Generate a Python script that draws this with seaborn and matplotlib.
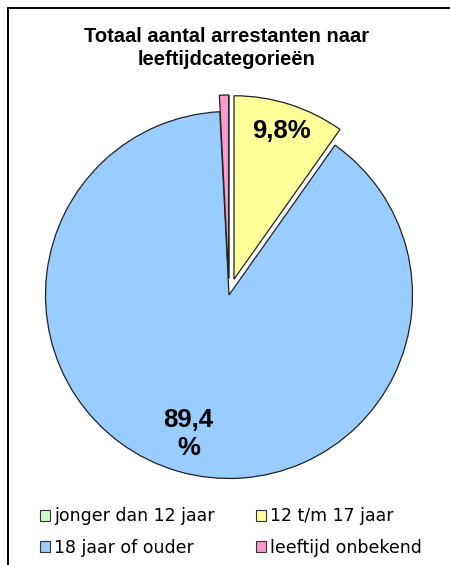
import numpy as np
import pandas as pd
import matplotlib
matplotlib.use("Agg")
import matplotlib.pyplot as plt
import seaborn as sns
from matplotlib.patches import Patch, Rectangle

# data
categories = ["jonger dan 12 jaar", "12 t/m 17 jaar", "18 jaar of ouder", "leeftijd onbekend"]
shares = [0.0, 9.8, 89.4, 0.8]
labels_shown = ["", "9,8%", "89,4\n%", ""]
colors = ["#CCFFCC", "#FFFF99", "#99CCFF", "#FF99CC"]
explode = [0.09, 0.09, 0.0, 0.09]

sns.set_theme(style="white")
plt.rcParams["font.family"] = ["Liberation Sans", "DejaVu Sans"]
plt.rcParams["text.color"] = "black"

fig = plt.figure(figsize=(4.5, 5.65), dpi=100)

# frame (only top and left visible in the crop)
fig.patches.append(Rectangle((8 / 450, -0.1), 1.2, 1 - 8 / 565 + 0.1,
                             transform=fig.transFigure, fill=False,
                             edgecolor="black", linewidth=1.4))

ax = fig.add_axes([45.5 / 450, 86.5 / 565, 367 / 450, 367 / 565])
wedges, _ = ax.pie(shares, colors=colors, explode=explode, startangle=90,
                   counterclock=False,
                   wedgeprops=dict(edgecolor="#222222", linewidth=0.9))
for w in wedges:
    w.set_clip_on(False)

# labels placed inside their wedges
label_dist = [0.85, 0.85, 0.79, 0.85]
for w, lab, d in zip(wedges, labels_shown, label_dist):
    if not lab:
        continue
    mid = np.deg2rad((w.theta1 + w.theta2) / 2)
    cx, cy = w.center
    ax.text(cx + d * np.cos(mid), cy + d * np.sin(mid), lab,
            ha="center", va="center", fontsize=18.5, fontweight="bold",
            linespacing=1.2)

ax.set_xlim(-1, 1)
ax.set_ylim(-1, 1)
ax.set_aspect("equal")
ax.axis("off")

fig.text(227 / 450, 1 - 48 / 565, "Totaal aantal arrestanten naar\nleeftijdcategorieën",
         ha="center", va="center", fontsize=14.5, fontweight="bold", linespacing=1.25)

# legend, filled row by row like the original
handles = [Patch(facecolor=c, edgecolor="#333333", linewidth=0.8) for c in colors]
order = [0, 2, 1, 3]
fig.legend([handles[i] for i in order], [categories[i] for i in order],
           ncol=2, loc="center", bbox_to_anchor=(231 / 450, 1 - 532 / 565),
           frameon=False, prop={"family": "DejaVu Sans", "size": 12.5},
           handlelength=0.55, handleheight=0.55,
           handletextpad=0.25, columnspacing=2.4, labelspacing=0.75)

fig.savefig("out.png", dpi=100)
